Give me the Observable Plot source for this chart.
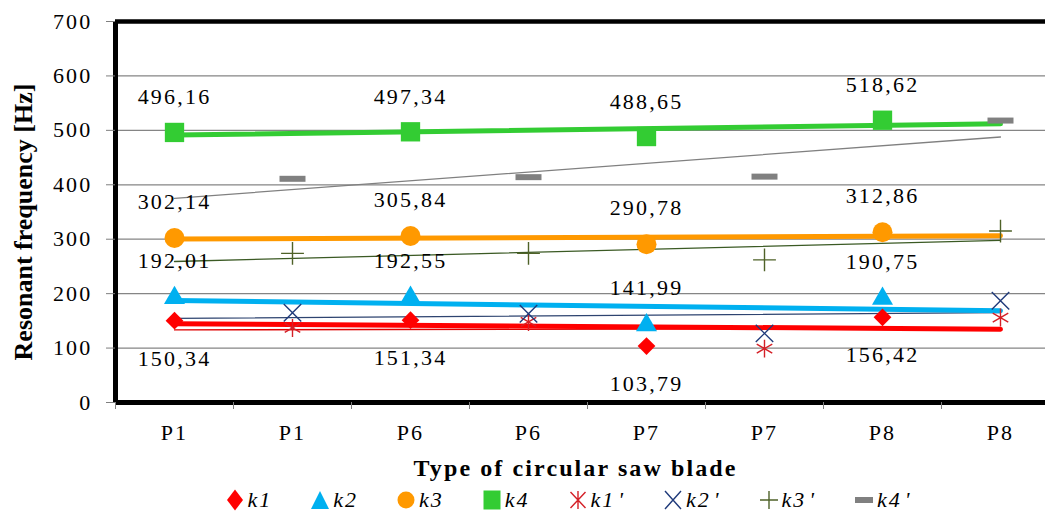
<!DOCTYPE html>
<html><head><meta charset="utf-8">
<script src="https://cdn.jsdelivr.net/npm/d3@7"></script>
<script src="https://cdn.jsdelivr.net/npm/@observablehq/plot@0.6"></script>
<style>
body{margin:0;background:#fff;font-family:"Liberation Serif","Times New Roman",serif;}
#chart svg{display:block;}
#xtitle{width:1045px;box-sizing:border-box;height:32px;line-height:32px;font-size:24px;font-weight:bold;letter-spacing:2.1px;text-align:center;padding-left:106px;color:#000;white-space:nowrap;}
#legend{width:1045px;box-sizing:border-box;height:32px;display:flex;justify-content:center;align-items:center;gap:38px;padding-left:91px;font-size:22px;font-style:italic;letter-spacing:2px;white-space:nowrap;}
#legend .item{display:flex;align-items:center;gap:3px;}
#legend .prime{margin-left:3px;}
#legend svg{display:block;}
</style></head><body>
<div id="chart"></div>
<div id="xtitle">Type of circular saw blade</div>
<div id="legend"></div>
<script>
// ---- data ----
const categories = ["P1", "P1", "P6", "P6", "P7", "P7", "P8", "P8"];
const blades = ["P1", "P6", "P7", "P8"];
const k1 = [150.34, 151.34, 103.79, 156.42];
const k2 = [192.01, 192.55, 141.99, 190.75];
const k3 = [302.14, 305.84, 290.78, 312.86];
const k4 = [496.16, 497.34, 488.65, 518.62];
const k1p = [137, 148, 99, 156];
const k2p = [165, 163, 127, 187];
const k3p = [274, 274, 262, 315];
const k4p = [411, 414, 415, 518];
const yTicks = [0, 100, 200, 300, 400, 500, 600, 700];
const seriesNames = ["k1", "k2", "k3", "k4", "k1'", "k2'", "k3'", "k4'"];
const yTitle = "Resonant frequency [Hz]";

// ---- styling ----
const dashSymbol = {draw(ctx) { ctx.rect(-13, -3, 26, 6); ctx.closePath(); }};
const styles = [
  {values: k1, primed: false, color: "#FF0000", symbol: "diamond2", r: 8, filled: true, labelDy: 38,
   legend: "M0,-10.5L8,0L0,10.5L-8,0Z"},
  {values: k2, primed: false, color: "#00B0F0", symbol: "triangle", r: 7.8, filled: true, labelDy: -37,
   legend: "M0,-9L9,9L-9,9Z"},
  {values: k3, primed: false, color: "#FF9900", symbol: "circle", r: 10, filled: true, labelDy: -36,
   legend: "M8.5,0A8.5,8.5,0,1,1,-8.5,0A8.5,8.5,0,1,1,8.5,0Z"},
  {values: k4, primed: false, color: "#33CC33", symbol: "square", r: 10.9, filled: true, labelDy: -35,
   legend: "M-8.5,-9.5H8.5V9.5H-8.5Z"},
  {values: k1p, primed: true, color: "#D42027", lineColor: "#E00000", symbol: "asterisk", r: 8.5, filled: false,
   legend: "M0,-9V9M-7.5,-8L7.5,8M7.5,-8L-7.5,8"},
  {values: k2p, primed: true, color: "#1F3A7A", lineColor: "#2E4470", symbol: "times", r: 8, filled: false,
   legend: "M-8,-9L8,9M8,-9L-8,9"},
  {values: k3p, primed: true, color: "#4F6228", lineColor: "#3B5A24", symbol: "plus", r: 7.4, filled: false,
   legend: "M-9,0H9M0,-9V9"},
  {values: k4p, primed: true, color: "#808080", lineColor: "#808080", symbol: dashSymbol, r: 8, filled: true,
   legend: "M-9,-3H9V3H-9Z"}
];

function fit(xs, ys) {
  const mx = d3.mean(xs), my = d3.mean(ys);
  const sxy = d3.sum(xs, (x, i) => (x - mx) * (ys[i] - my));
  const sxx = d3.sum(xs, x => (x - mx) ** 2);
  const b = sxy / sxx;
  return x => my + b * (x - mx);
}
const fmt = v => v.toFixed(2).replace(".", ",");

const series = styles.map((s, k) => {
  const rows = s.values.map((v, i) => ({series: seriesNames[k], blade: blades[i], x: 2 * i + (s.primed ? 1 : 0), y: v, label: fmt(v)}));
  const f = fit(rows.map(d => d.x), rows.map(d => d.y));
  const trend = [0, categories.length - 1].map(x => ({x, y: f(x)}));
  return {...s, name: seriesNames[k], rows, trend};
});

const marks = [];
marks.push(Plot.ruleY(yTicks.filter(t => t > 0 && t < 700), {stroke: "#858585", strokeWidth: 1.2}));
series.filter(s => s.primed).forEach(s => marks.push(Plot.line(s.trend, {x: "x", y: "y", stroke: s.lineColor, strokeWidth: 1.3})));
series.filter(s => !s.primed).forEach(s => marks.push(Plot.line(s.trend, {x: "x", y: "y", stroke: s.color, strokeWidth: 5, strokeLinecap: "round"})));
marks.push(Plot.ruleY([700], {stroke: "black", strokeWidth: 4.7}));
marks.push(Plot.ruleY([0], {stroke: "black", strokeWidth: 5}));
marks.push(Plot.ruleX([-0.5], {stroke: "black", strokeWidth: 5}));
series.forEach(s => {
  marks.push(Plot.dot(s.rows, {
    x: "x", y: "y", symbol: s.symbol, r: s.r,
    fill: s.filled ? s.color : "none",
    stroke: s.filled ? "none" : s.color,
    strokeWidth: s.filled ? 0 : 1.4
  }));
});
series.filter(s => !s.primed).forEach(s => marks.push(Plot.text(s.rows, {x: "x", y: "y", text: "label", dy: s.labelDy, fontSize: 22, fill: "black"})));
marks.push(Plot.axisY(yTicks, {tickSize: 9, tickPadding: 14, fontSize: 22, stroke: "#7f7f7f", fill: "black", label: null}));
marks.push(Plot.axisX(d3.range(categories.length), {tickSize: 0, tickPadding: 22, fontSize: 22, tickFormat: i => categories[i], label: null, fill: "black"}));
marks.push(Plot.axisX(d3.range(categories.length + 1).map(i => i - 0.5), {tickSize: 7, tickFormat: () => "", label: null, stroke: "#7f7f7f"}));
marks.push(Plot.text([yTitle], {frameAnchor: "left", textAnchor: "middle", rotate: -90, dx: -92, dy: 10, fontSize: 26, fontWeight: "bold", fill: "black"}));

const chart = Plot.plot({
  width: 1045,
  height: 452,
  marginLeft: 115,
  marginRight: 0,
  marginTop: 21,
  marginBottom: 50,
  x: {domain: [-0.5, 7.5], range: [115, 1059]},
  y: {domain: [0, 700], range: [402, 21]},
  style: {fontFamily: "'Liberation Serif', 'Times New Roman', serif", fontSize: "22px", background: "white", color: "black", letterSpacing: "2.2px"},
  marks
});
d3.select(chart).selectAll("text").filter(function() { return this.textContent === yTitle; }).style("letter-spacing", "0px");
document.getElementById("chart").appendChild(chart);

// ---- legend ----
const legend = d3.select("#legend");
series.forEach(s => {
  const item = legend.append("div").attr("class", "item");
  const svg = item.append("svg").attr("width", 20).attr("height", 22).attr("viewBox", "-10 -11 20 22");
  svg.append("path").attr("d", s.legend)
    .attr("fill", s.filled ? s.color : "none")
    .attr("stroke", s.filled ? "none" : s.color)
    .attr("stroke-width", 1.4);
  const label = item.append("span");
  const base = s.name.replace("'", "");
  label.append("span").text(base);
  if (s.name.endsWith("'")) label.append("span").attr("class", "prime").text("'");
});
</script>
</body></html>
